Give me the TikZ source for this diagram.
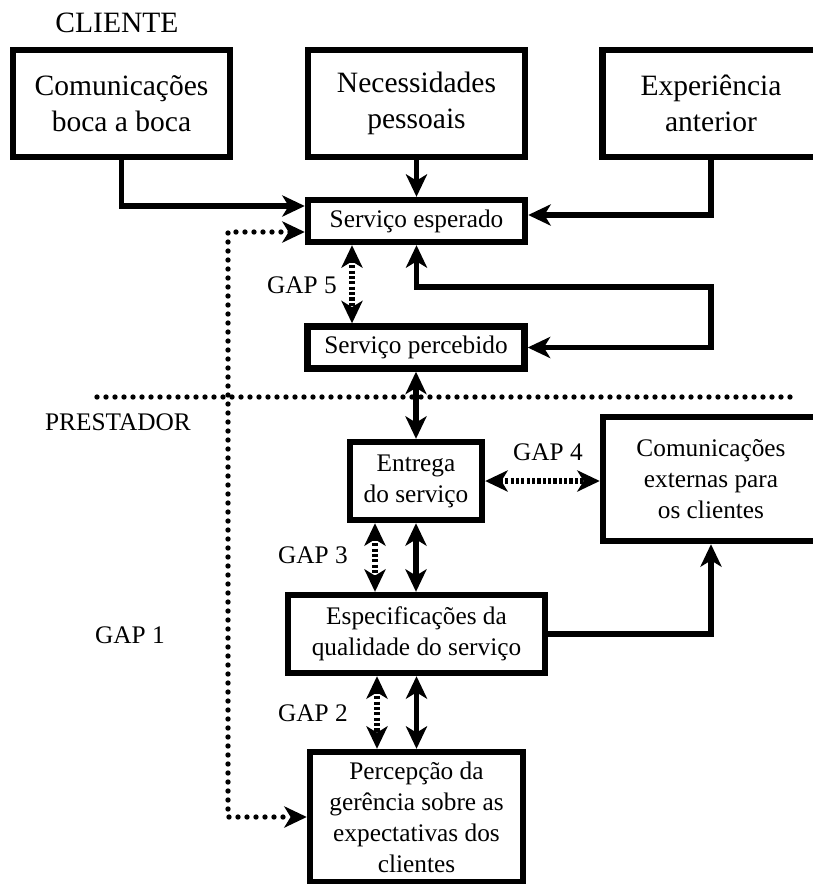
\documentclass[tikz,border=0pt]{standalone}
\usepackage{fontspec}
\setmainfont{Liberation Serif}
\usetikzlibrary{arrows.meta}
\newcommand{\bigfnt}{\fontsize{21}{25.5}\selectfont}
\newcommand{\smallfnt}{\fontsize{18}{22}\selectfont}

\begin{document}
\begin{tikzpicture}[x=0.025cm,y=-0.025cm,
	>={Stealth[length=16pt,width=15pt,inset=4.5pt]},
	box/.style={draw,line width=4.5pt,align=center,inner sep=0pt,font=\bigfnt},
	sbox/.style={box,font=\smallfnt},
	conn/.style={line width=3.6pt,->},
	both/.style={line width=3.6pt,<->},
	gap/.style={both,dash pattern=on 2.2pt off 1.6pt},
	dots/.style={line width=3.8pt,line cap=round,dash pattern=on 0pt off 6.4pt}]
	\useasboundingbox (0,0) rectangle (812,884);
	\node[font=\bigfnt] (cliente) at (117,23) {CLIENTE};
	\node[box,minimum width=5.425cm,minimum height=2.675cm] (boca) at (121.5,103.5)
		{Comunicações\\boca a boca};
	\node[box,minimum width=5.425cm,minimum height=2.675cm] (necess) at (416.5,103.5)
		{Necessidades\\pessoais};
	\node[box,minimum width=5.425cm,minimum height=2.675cm] (exper) at (711,103.5)
		{Experiência\\anterior};
	\node[sbox,minimum width=5.425cm,minimum height=1.05cm] (esp) at (416.5,221)
		{Serviço esperado};
	\node[sbox,minimum width=5.425cm,minimum height=1.05cm] (perc) at (416,347.5)
		{Serviço percebido};
	\node[font=\smallfnt] (prestador) at (118,422) {PRESTADOR};
	\node[sbox,minimum width=3.3cm,minimum height=1.95cm] (ent) at (416,481)
		{Entrega\\do serviço};
	\node[sbox,minimum width=5.4cm,minimum height=3.1cm] (ext) at (711,479)
		{Comunicações\\externas para\\os clientes};
	\node[sbox,minimum width=6.425cm,minimum height=1.95cm] (spec) at (416.5,634)
		{Especificações da\\qualidade do serviço};
	\node[sbox,minimum width=5.325cm,minimum height=3.25cm] (percep) at (416.5,817)
		{Percepção da\\gerência sobre as\\expectativas dos\\clientes};
	\node[font=\smallfnt] (gap1) at (130,635) {GAP 1};
	\node[font=\smallfnt] (gap2) at (313,713) {GAP 2};
	\node[font=\smallfnt] (gap3) at (313,555) {GAP 3};
	\node[font=\smallfnt] (gap4) at (548,452) {GAP 4};
	\node[font=\smallfnt] (gap5) at (302,285) {GAP 5};
	\draw[conn] (boca.south) |- (esp.west |- 0,206);
	\draw[conn] (necess.south) -- (esp.north);
	\draw[conn] (exper.south) |- (esp.east |- 0,215);
	\draw[gap] (esp.south -| 352,0) -- (perc.north -| 352,0);
	\draw[both] (esp.south) |- (711,287) |- (perc.east);
	\draw[dots] (97,397) -- (792,397);
	\draw[dots,<->] (esp.west |- 0,232) -| (228,817) -- (percep.west);
	\draw[both] (perc.south) -- (ent.north);
	\draw[gap] (ent.east) -- (ext.west |- ent.east);
	\draw[gap] (ent.south -| 375,0) -- (spec.north -| 375,0);
	\draw[both] (ent.south) -- (spec.north -| ent.south);
	\draw[conn] (spec.east) -| (ext.south);
	\draw[gap] (spec.south -| 377,0) -- (percep.north -| 377,0);
	\draw[both] (spec.south) -- (percep.north);
\end{tikzpicture}
\end{document}
